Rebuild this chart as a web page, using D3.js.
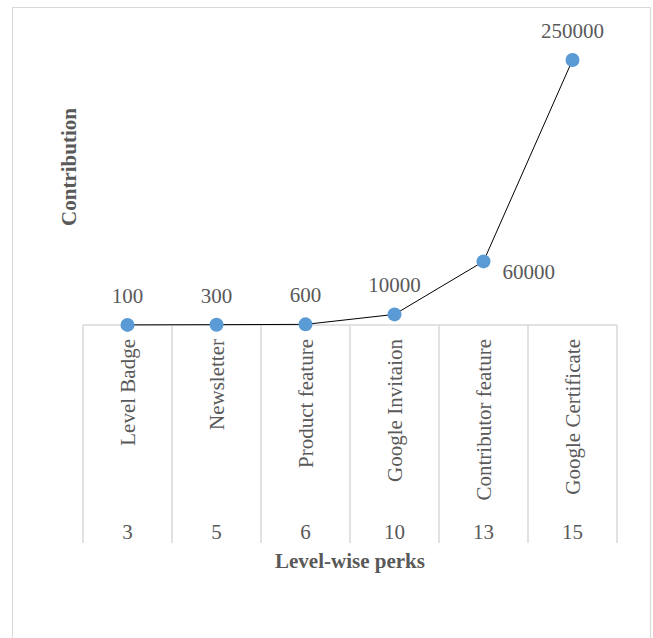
<!DOCTYPE html>
<html>
<head>
<meta charset="utf-8">
<script src="https://cdn.jsdelivr.net/npm/d3@7"></script>
<style>
  body { margin: 0; background: #fff; }
  svg { display: block; }
  text { font-family: "Liberation Serif", "Times New Roman", serif; fill: #595959; }
</style>
</head>
<body>
<svg id="chart"></svg>
<script>
// chart data
const perks = ["Level Badge", "Newsletter", "Product feature", "Google Invitaion", "Contributor feature", "Google Certificate"];
const levels = ["3", "5", "6", "10", "13", "15"];
const contribution = [100, 300, 600, 10000, 60000, 250000];

const width = 653;
const height = 638;

const svg = d3.select("#chart")
    .attr("width", width)
    .attr("height", height);

// outer chart border
svg.append("rect")
    .attr("x", 12.5)
    .attr("y", 7.5)
    .attr("width", 638)
    .attr("height", 640)
    .attr("fill", "#fff")
    .attr("stroke", "#d9d9d9");

const x = d3.scaleBand()
    .domain(perks)
    .range([83, 617])
    .padding(0);

const y = d3.scaleLinear()
    .domain([0, 300000])
    .range([325, 7]);

const axisY = 325;
const axisBottom = 543;

// category axis line
svg.append("line")
    .attr("x1", x.range()[0])
    .attr("x2", x.range()[1])
    .attr("y1", axisY)
    .attr("y2", axisY)
    .attr("stroke", "#d9d9d9")
    .attr("stroke-width", 1.5);

// dividers between categories
const edges = perks.map(p => x(p)).concat([x.range()[1]]);
svg.append("g")
    .selectAll("line")
    .data(edges)
    .enter().append("line")
    .attr("x1", d => d)
    .attr("x2", d => d)
    .attr("y1", axisY)
    .attr("y2", axisBottom)
    .attr("stroke", "#d9d9d9")
    .attr("stroke-width", 1.5);

const cx = d => x(d) + x.bandwidth() / 2;

// rotated perk labels
svg.append("g")
    .selectAll("text")
    .data(perks)
    .enter().append("text")
    .attr("transform", d => `translate(${cx(d)},339) rotate(-90)`)
    .attr("dy", "0.35em")
    .attr("text-anchor", "end")
    .style("font-size", "21px")
    .text(d => d);

// level labels (second row)
svg.append("g")
    .selectAll("text")
    .data(levels)
    .enter().append("text")
    .attr("x", (d, i) => cx(perks[i]))
    .attr("y", 539)
    .attr("text-anchor", "middle")
    .style("font-size", "21px")
    .text(d => d);

// axis titles
svg.append("text")
    .attr("x", 350)
    .attr("y", 568)
    .attr("text-anchor", "middle")
    .style("font-size", "21px")
    .style("font-weight", "bold")
    .text("Level-wise perks");

svg.append("text")
    .attr("transform", "translate(69,167) rotate(-90)")
    .attr("dy", "0.35em")
    .attr("text-anchor", "middle")
    .style("font-size", "21px")
    .style("font-weight", "bold")
    .text("Contribution");

// series line
const line = d3.line()
    .x((d, i) => cx(perks[i]))
    .y(d => y(d));

svg.append("path")
    .datum(contribution)
    .attr("fill", "none")
    .attr("stroke", "#000")
    .attr("stroke-width", 1)
    .attr("d", line);

// markers
svg.append("g")
    .selectAll("circle")
    .data(contribution)
    .enter().append("circle")
    .attr("cx", (d, i) => cx(perks[i]))
    .attr("cy", d => y(d))
    .attr("r", 7)
    .attr("fill", "#5b9bd5");

// data labels (60000 sits to the right of its point)
svg.append("g")
    .selectAll("text")
    .data(contribution)
    .enter().append("text")
    .attr("x", (d, i) => i === 4 ? cx(perks[i]) + 19 : cx(perks[i]))
    .attr("y", (d, i) => i === 4 ? y(d) + 18 : y(d) - 22)
    .attr("text-anchor", (d, i) => i === 4 ? "start" : "middle")
    .style("font-size", "21px")
    .text(d => d);
</script>
</body>
</html>
